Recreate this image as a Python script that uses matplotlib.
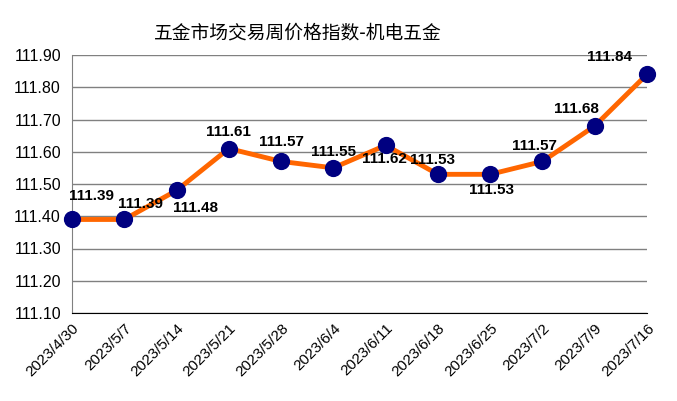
import matplotlib
matplotlib.use("Agg")
import matplotlib.pyplot as plt

dates = ["2023/4/30", "2023/5/7", "2023/5/14", "2023/5/21", "2023/5/28", "2023/6/4",
         "2023/6/11", "2023/6/18", "2023/6/25", "2023/7/2", "2023/7/9", "2023/7/16"]
values = [111.39, 111.39, 111.48, 111.61, 111.57, 111.55, 111.62, 111.53, 111.53, 111.57, 111.68, 111.84]
yticks = [111.10, 111.20, 111.30, 111.40, 111.50, 111.60, 111.70, 111.80, 111.90]
title = "五金市场交易周价格指数-机电五金"

# label offsets in pixels (dx, dy)
offsets = [(20, 23), (16, 15), (19, -18), (0, 17), (0, 19), (0, 16), (-1, -14), (-5, 14),
           (1, -16), (-8, 15), (-18, 17), (-37, 17)]

plt.rcParams['font.family'] = ['Liberation Sans', 'Noto Sans CJK SC', 'DejaVu Sans']

fig = plt.figure(figsize=(6.77, 4.01), dpi=100)
ax = fig.add_axes([72/677, 1-313/401, (647-72)/677, (313-55)/401])

x = list(range(len(values)))
ax.plot(x, values, color="#FF6600", linewidth=3.5, zorder=3, clip_on=False)
ax.scatter(x, values, s=130, color="#000080", zorder=4, clip_on=False)

for xi, v, (dx, dy) in zip(x, values, offsets):
    ax.annotate(f"{v:.2f}", (xi, v), xytext=(dx, dy), textcoords="offset pixels",
                ha="center", va="center", fontsize=11, fontweight="bold", zorder=5)

ax.set_xlim(0, 11)
ax.set_ylim(111.10, 111.90)
ax.set_yticks(yticks)
ax.set_yticklabels([f"{t:.2f}" for t in yticks], fontsize=11.5)
ax.set_xticks(x)
ax.set_xticklabels(dates, rotation=45, ha="right", rotation_mode="anchor", fontsize=11)
ax.tick_params(length=0, pad=6)
ax.tick_params(axis='y', pad=8)
ax.grid(axis='y', color="#808080", linewidth=1)
ax.set_axisbelow(True)
for s in ["top", "right"]:
    ax.spines[s].set_visible(False)
ax.spines["left"].set_color("#808080")
ax.spines["bottom"].set_color("black")

fig.text(298/677, 1-33/401, title, ha="center", va="center", fontsize=13.5,
         family=['Noto Sans CJK SC', 'DejaVu Sans'])

fig.savefig("out.png", dpi=100)
